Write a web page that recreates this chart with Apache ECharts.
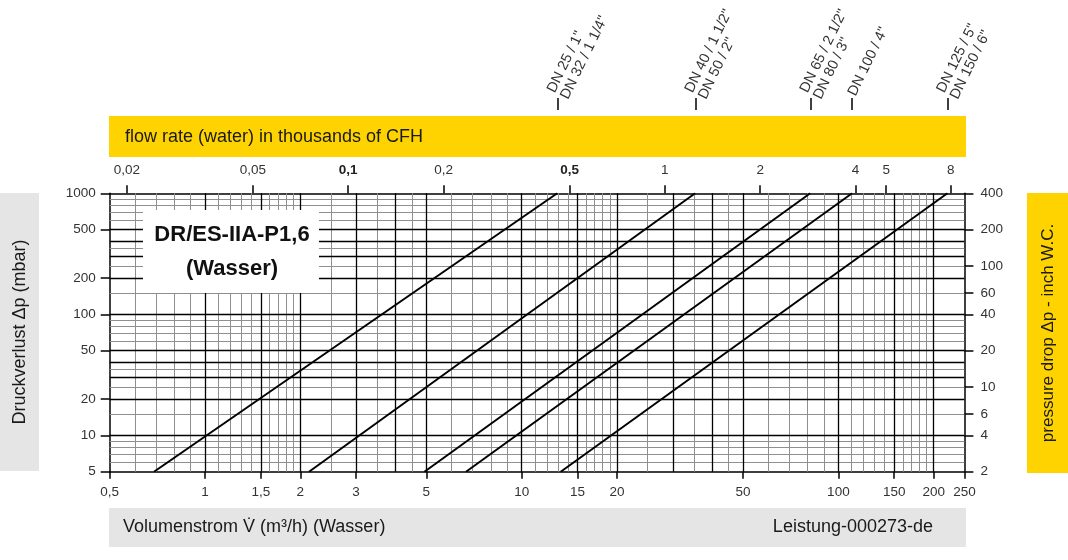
<!DOCTYPE html>
<html><head><meta charset="utf-8">
<script src="https://cdn.jsdelivr.net/npm/echarts@6.0.0/dist/echarts.min.js"></script>
<style>html,body{margin:0;padding:0;background:#fff}#c{width:1068px;height:560px}</style>
</head><body><div id="c"></div>
<script>
// ---------------- data ----------------
// bottom axis: Volumenstrom in m3/h
const xTickValues = [0.5, 1, 1.5, 2, 3, 5, 10, 15, 20, 50, 100, 150, 200, 250];
// left axis: Druckverlust in mbar
const yTickValues = [5, 10, 20, 50, 100, 200, 500, 1000];
// top axis: flow rate in thousands of CFH
const topTickValues = [0.02, 0.05, 0.1, 0.2, 0.5, 1, 2, 4, 5, 8];
const topBoldTicks = [0.1, 0.5];
// right axis: pressure drop in inch W.C.
const rightTickValues = [2, 4, 6, 10, 20, 40, 60, 100, 200, 400];
const M3H_PER_KCFH = 28.3168;   // 1000 CFH = 28.3168 m3/h

// characteristic lines  [m3/h, mbar]
const seriesNames = ['DN 25 / DN 32', 'DN 40 / DN 50', 'DN 65 / DN 80', 'DN 100', 'DN 125 / DN 150'];
const lineDN25_32   = [[0.69, 5], [12.95, 1000]];
const lineDN40_50   = [[2.13, 5], [35.3, 1000]];
const lineDN65_80   = [[4.93, 5], [81.5, 1000]];
const lineDN100     = [[6.67, 5], [110.5, 1000]];
const lineDN125_150 = [[13.28, 5], [221, 1000]];

// DN labels above the chart
const dnTickX  = [13.0, 35.4, 81.7, 110.3, 221.0];
const dnLabels = ['DN 25 / 1"\nDN 32 / 1 1/4"', 'DN 40 / 1 1/2"\nDN 50 / 2"', 'DN 65 / 2 1/2"\nDN 80 / 3"', 'DN 100 / 4"', 'DN 125 / 5"\nDN 150 / 6"'];

// grid lines
const gridXMajor = [1, 1.5, 2, 3, 4, 5, 10, 15, 20, 30, 40, 50, 100, 150, 200];
const gridXMinor = [0.6, 0.7, 0.8, 0.9, 1.1, 1.2, 1.3, 1.4, 1.6, 1.7, 1.8, 1.9, 2.5, 3.5, 4.5, 6, 7, 8, 9,
                    11, 12, 13, 14, 16, 17, 18, 19, 25, 35, 45, 60, 70, 80, 90, 110, 120, 130, 140, 160, 170, 180, 190];
const gridYMajor = [10, 20, 30, 40, 50, 100, 200, 300, 400, 500];
const gridYMinor = [6, 7, 8, 9, 15, 25, 35, 60, 70, 80, 90, 150, 250, 350, 600, 700, 800, 900];

// ---------------- chart ----------------
const FONT = "'Liberation Sans', Arial, sans-serif";
const YELLOW = '#FFD300';
const GRAY = '#E5E5E5';
const LBL = '#333';
const comma = v => String(+(+v).toPrecision(6)).replace('.', ',');
const same = (a, b) => Math.abs(Math.log10(a) - Math.log10(b)) < 1e-4;

const chart = echarts.init(document.getElementById('c'), null, {renderer: 'canvas'});

const majorStyle = {type: 'solid', color: '#000', width: 1.3};
const minorStyle = {type: 'solid', color: '#8f8f8f', width: 1};
const gridMarks = [].concat(
  gridXMinor.map(v => ({xAxis: v, lineStyle: minorStyle})),
  gridYMinor.map(v => ({yAxis: v, lineStyle: minorStyle})),
  gridXMajor.map(v => ({xAxis: v, lineStyle: majorStyle})),
  gridYMajor.map(v => ({yAxis: v, lineStyle: majorStyle}))
);

const plotGrid = {left: 109.7, width: 854.7, top: 193.3, height: 278.4, outerBoundsMode: 'none', containLabel: false};
const dnGrid = {left: 109.7, width: 854.7, top: 110, height: 20, outerBoundsMode: 'none', containLabel: false};

const axisLineBlack = {show: true, onZero: false, lineStyle: {color: '#000', width: 1.5}};
const labelBase = {color: LBL, fontSize: 13.5, fontFamily: FONT};

function mkSeries(name, data, withGrid) {
  const s = {
    name, type: 'line', data, xAxisIndex: 0, yAxisIndex: 0,
    symbol: 'none', showSymbol: false, silent: true, z: 3,
    lineStyle: {color: '#000', width: 2}
  };
  if (withGrid) {
    s.markLine = {
      silent: true, symbol: ['none', 'none'], z: 1, animation: false,
      label: {show: false}, emphasis: {disabled: true},
      lineStyle: majorStyle, data: gridMarks
    };
  }
  return s;
}

const option = {
  animation: false,
  backgroundColor: '#fff',
  grid: [plotGrid, dnGrid],
  xAxis: [
    { // bottom: m3/h
      type: 'log', gridIndex: 0, position: 'bottom', min: 0.5, max: 250,
      axisLine: axisLineBlack,
      axisTick: {show: true, customValues: xTickValues, length: 7, lineStyle: {color: '#000', width: 1.5}},
      axisLabel: Object.assign({customValues: xTickValues, margin: 14, formatter: comma}, labelBase),
      splitLine: {show: false}, minorTick: {show: false}, minorSplitLine: {show: false}
    },
    { // top: thousands of CFH
      type: 'log', gridIndex: 0, position: 'top',
      min: 0.5 / M3H_PER_KCFH, max: 250 / M3H_PER_KCFH,
      axisLine: axisLineBlack,
      axisTick: {show: true, customValues: topTickValues, length: 8, lineStyle: {color: '#000', width: 1.5}},
      axisLabel: Object.assign({
        customValues: topTickValues, margin: 16,
        formatter: v => topBoldTicks.some(b => same(b, v)) ? '{b|' + comma(v) + '}' : comma(v),
        rich: {b: {fontWeight: 'bold', fontSize: 13.5, color: '#222', fontFamily: FONT}}
      }, labelBase),
      splitLine: {show: false}, minorTick: {show: false}, minorSplitLine: {show: false}
    },
    { // DN labels
      type: 'log', gridIndex: 1, position: 'top', min: 0.5, max: 250,
      axisLine: {show: false, onZero: false},
      axisTick: {show: true, inside: false, customValues: dnTickX, length: 12, lineStyle: {color: '#000', width: 1.5}},
      axisLabel: {
        customValues: dnTickX, rotate: -64, margin: 15, color: LBL, fontSize: 14.5, fontFamily: FONT, lineHeight: 15,
        formatter: v => { let bi = 0, bd = 1e9; dnTickX.forEach((d, i) => { const dd = Math.abs(Math.log10(d) - Math.log10(v)); if (dd < bd) { bd = dd; bi = i; } }); return dnLabels[bi]; }
      },
      splitLine: {show: false}, minorTick: {show: false}
    }
  ],
  yAxis: [
    { // left: mbar
      type: 'log', gridIndex: 0, position: 'left', min: 5, max: 1000,
      axisLine: axisLineBlack,
      axisTick: {show: true, customValues: yTickValues, length: 9, lineStyle: {color: '#000', width: 1.5}},
      axisLabel: Object.assign({customValues: yTickValues, margin: 14, formatter: comma}, labelBase),
      splitLine: {show: false}, minorTick: {show: false}, minorSplitLine: {show: false}
    },
    { // right: inch W.C.
      type: 'log', gridIndex: 0, position: 'right', min: 2, max: 400,
      axisLine: axisLineBlack,
      axisTick: {show: true, customValues: rightTickValues, length: 9, lineStyle: {color: '#000', width: 1.5}},
      axisLabel: Object.assign({customValues: rightTickValues, margin: 16, formatter: comma}, labelBase),
      splitLine: {show: false}, minorTick: {show: false}, minorSplitLine: {show: false}
    },
    {type: 'value', gridIndex: 1, show: false, min: 0, max: 1}
  ],
  series: [
    mkSeries(seriesNames[0], lineDN25_32, true),
    mkSeries(seriesNames[1], lineDN40_50, false),
    mkSeries(seriesNames[2], lineDN65_80, false),
    mkSeries(seriesNames[3], lineDN100, false),
    mkSeries(seriesNames[4], lineDN125_150, false)
  ],
  graphic: [
    {type: 'rect', shape: {x: 109, y: 116, width: 857, height: 41}, style: {fill: YELLOW}, silent: true},
    {type: 'text', x: 125, y: 137, silent: true,
     style: {text: 'flow rate (water) in thousands of CFH', fontSize: 18, fontFamily: FONT, fill: '#1a1a1a', textVerticalAlign: 'middle'}},
    {type: 'rect', shape: {x: 109, y: 508, width: 857, height: 39}, style: {fill: GRAY}, silent: true},
    {type: 'text', x: 123, y: 527.5, silent: true,
     style: {text: 'Volumenstrom V\u0307 (m\u00b3/h) (Wasser)', fontSize: 18, fontFamily: FONT, fill: '#1a1a1a', textVerticalAlign: 'middle'}},
    {type: 'text', x: 933, y: 527.5, silent: true,
     style: {text: 'Leistung-000273-de', fontSize: 18, fontFamily: FONT, fill: '#1a1a1a', textAlign: 'right', textVerticalAlign: 'middle'}},
    {type: 'rect', shape: {x: 0, y: 193, width: 39, height: 278}, style: {fill: GRAY}, silent: true},
    {type: 'text', x: 20, y: 332, rotation: Math.PI / 2, silent: true,
     style: {text: 'Druckverlust \u0394p (mbar)', fontSize: 18, fontFamily: FONT, fill: '#1a1a1a', textAlign: 'center', textVerticalAlign: 'middle'}},
    {type: 'rect', shape: {x: 1027, y: 193, width: 41, height: 280}, style: {fill: YELLOW}, silent: true},
    {type: 'text', x: 1048, y: 333, rotation: Math.PI / 2, silent: true,
     style: {text: 'pressure drop \u0394p - inch W.C.', fontSize: 17, fontFamily: FONT, fill: '#1a1a1a', textAlign: 'center', textVerticalAlign: 'middle'}},
    {type: 'rect', z: 100, shape: {x: 143, y: 210, width: 176, height: 83}, style: {fill: '#fff'}, silent: true},
    {type: 'text', z: 101, x: 232, y: 235, silent: true,
     style: {text: 'DR/ES-IIA-P1,6', fontSize: 22, fontWeight: 'bold', fontFamily: FONT, fill: '#111', textAlign: 'center', textVerticalAlign: 'middle'}},
    {type: 'text', z: 101, x: 232, y: 269, silent: true,
     style: {text: '(Wasser)', fontSize: 22, fontWeight: 'bold', fontFamily: FONT, fill: '#111', textAlign: 'center', textVerticalAlign: 'middle'}}
  ]
};
chart.setOption(option);
</script>
</body></html>
